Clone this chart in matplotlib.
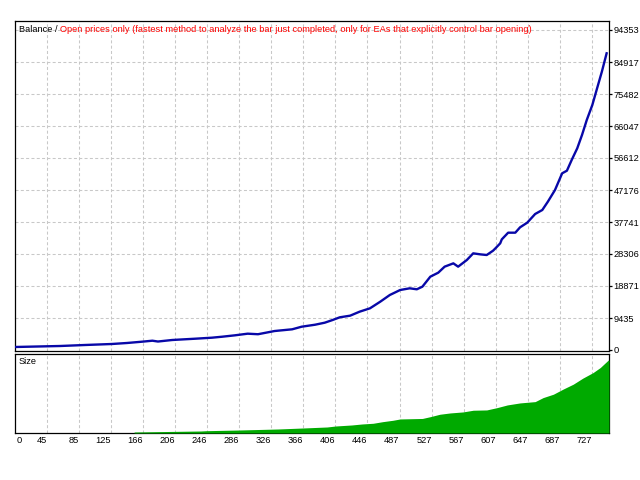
import numpy as np
import matplotlib
matplotlib.use("Agg")
import matplotlib.pyplot as plt
from matplotlib import font_manager

# ---- data ----
trade_idx = [0, 57, 88, 122, 141, 160, 173, 180, 198, 227, 248, 261, 277, 293, 306,
             327, 349, 361, 378, 390, 400, 409, 422, 434, 447, 460, 472, 485, 497,
             506, 513, 523, 533, 541, 552, 558, 569, 577, 586, 594, 602, 605, 611,
             613, 621, 630, 636, 645, 655, 664, 671, 680, 689, 695, 701, 708, 714,
             720, 727, 733, 739, 745]
balance = [885, 1180, 1474, 1770, 2064, 2450, 2740, 2500, 2950, 3330, 3630, 3920,
           4330, 4810, 4650, 5600, 6100, 6870, 7460, 8050, 8850, 9640, 10120, 11300,
           12290, 14250, 16220, 17690, 18190, 17900, 18670, 21620, 22800, 24570,
           25550, 24570, 26540, 28500, 28200, 28010, 29280, 29980, 31450, 32620,
           34590, 34590, 36170, 37540, 40100, 41280, 43730, 47180, 52100, 52870,
           56020, 59470, 63390, 67820, 72240, 77160, 82060, 87480]

size_idx = [150, 234, 241, 283, 331, 363, 393, 404, 424, 437, 451, 463, 476, 485,
            513, 523, 535, 548, 564, 577, 594, 607, 620, 636, 655, 665, 678, 690,
            703, 715, 728, 737, 747]
size = [0.10, 0.20, 0.23, 0.30, 0.40, 0.50, 0.60, 0.70, 0.80, 0.90, 0.97, 1.13,
        1.27, 1.40, 1.45, 1.63, 1.87, 2.00, 2.10, 2.27, 2.30, 2.53, 2.80, 3.00,
        3.13, 3.53, 3.87, 4.37, 4.87, 5.47, 6.03, 6.53, 7.27]

y_tick_values = [0, 9435, 18871, 28306, 37741, 47176, 56612, 66047, 75482, 84917, 94353]
x_tick_labels = ["0", "45", "85", "125", "166", "206", "246", "286", "326", "366",
                 "406", "446", "487", "527", "567", "607", "647", "687", "727"]

title_black = "Balance / "
title_red = "Open prices only (fastest method to analyze the bar just completed, only for EAs that explicitly control bar opening)"

# ---- font choice ----
names = {f.name for f in font_manager.fontManager.ttflist}
if 'Liberation Sans Narrow' in names:
    FAMILY, FS = ['Liberation Sans Narrow', 'DejaVu Sans'], 7.9
else:
    FAMILY, FS = ['Liberation Sans', 'DejaVu Sans'], 6.7
plt.rcParams['font.family'] = FAMILY

W, H = 640, 480
fig = plt.figure(figsize=(6.4, 4.8), dpi=100)
fig.patch.set_facecolor('white')

L, R = 15, 609
ax1 = fig.add_axes([L / W, 1 - 351 / H, (R - L) / W, (351 - 21) / H])
ax2 = fig.add_axes([L / W, 1 - 433 / H, (R - L) / W, (433 - 353.8) / H])

XMAX = 748
grid_step = 40.35
x_tick_pos = np.arange(len(x_tick_labels)) * grid_step

grid_kw = dict(color='#c8c8c8', linewidth=0.75, dashes=(2.9, 2.2))

for ax in (ax1, ax2):
    ax.set_xlim(0, XMAX)
    ax.set_facecolor('white')
    for s in ax.spines.values():
        s.set_color('black')
        s.set_linewidth(0.9)
    for xp in x_tick_pos[1:]:
        ax.axvline(xp, zorder=0, **grid_kw)

# upper panel
ylo = -295
yhi = 94353 + 9 * 294.85
ax1.set_ylim(ylo, yhi)
for yv in y_tick_values[1:]:
    ax1.axhline(yv, zorder=0, **grid_kw)
ax1.plot(trade_idx, balance, color='#0808a8', linewidth=1.7, zorder=3)
ax1.set_xticks([])
ax1.yaxis.tick_right()
ax1.set_yticks(y_tick_values)
ax1.set_yticklabels([str(v) for v in y_tick_values])
ax1.tick_params(axis='y', direction='out', length=2.2, width=0.9, pad=1.0,
                labelsize=FS, colors='black')

t1 = ax1.text(4 / (R - L), 1 - 9 / 330, title_black, transform=ax1.transAxes,
              fontsize=FS, color='black', va='center', ha='left')
ax1.annotate(title_red, xy=(1, 0), xycoords=t1, va='bottom', ha='left',
             fontsize=FS, color='#ff0000')

# lower panel
ax2.set_ylim(0, 7.9)
sx = list(size_idx) + [XMAX]
sy = list(size) + [size[-1]]
ax2.fill_between(sx, 0, sy, color='#00aa00', linewidth=0, zorder=3)
ax2.set_yticks([])
ax2.set_xticks([])
ax2.text(4 / (R - L), 1 - 8 / 80, "Size", transform=ax2.transAxes,
         fontsize=FS, color='black', va='center', ha='left')

# x labels (right-aligned at gridlines, first at left edge)
for i, (xp, lab) in enumerate(zip(x_tick_pos, x_tick_labels)):
    if i == 0:
        ax2.text(xp + 1.5, -0.09, lab, transform=ax2.get_xaxis_transform(),
                 ha='left', va='center', fontsize=FS, color='black')
    else:
        ax2.text(xp, -0.09, lab, transform=ax2.get_xaxis_transform(),
                 ha='right', va='center', fontsize=FS, color='black')

fig.savefig('out.png', dpi=100, facecolor='white')
